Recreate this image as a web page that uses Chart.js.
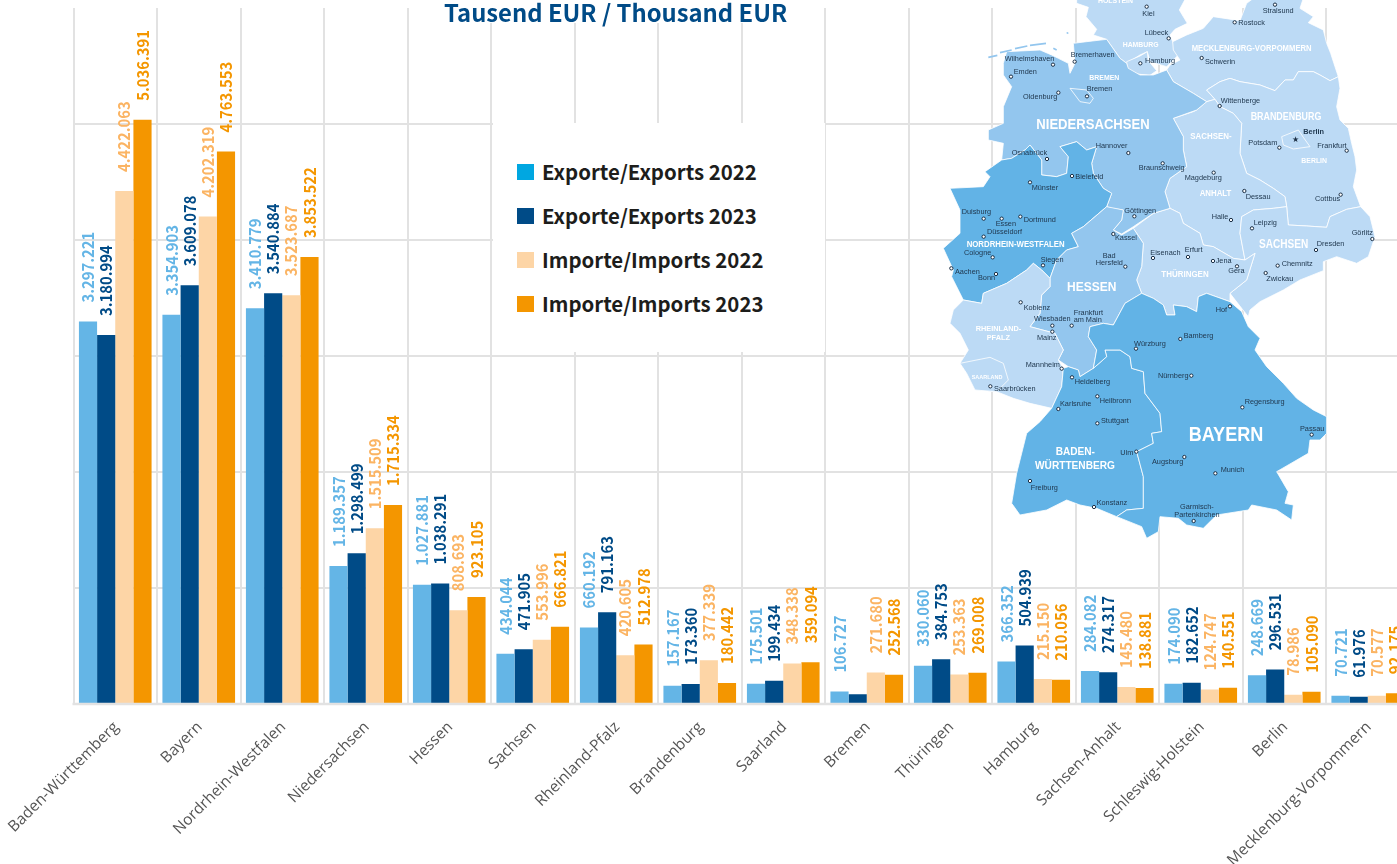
<!DOCTYPE html>
<html lang="de"><head><meta charset="utf-8">
<script src="https://cdn.jsdelivr.net/npm/chart.js@4/dist/chart.umd.min.js"></script>
<style>
html,body{margin:0;padding:0;background:#fff;overflow:hidden}
#page{position:relative;width:1397px;height:864px;overflow:hidden;background:#fff}
#chartCanvas{position:absolute;left:0;top:0}
#legendBox{position:absolute;left:493px;top:123px;width:332px;height:229px;background:#fff}
#titleBox{position:absolute;left:440px;top:0;width:352px;height:23px;background:#fff}
#title{position:absolute;left:444px;top:-6px;font:700 23.8px "Noto Sans CJK SC";color:#004b87;white-space:nowrap;line-height:36px}
.li{position:absolute;left:24px;height:17px}
.sw{position:absolute;left:0;top:0;width:17px;height:16px}
.lt{position:absolute;left:25px;top:-9px;font:700 20.4px "Noto Sans CJK SC";line-height:32px;color:#1d1d1b;white-space:nowrap}
#map{position:absolute;left:0;top:0;pointer-events:none}
#map .l{fill:#bcdaf5}#map .m{fill:#93c6ee}#map .d{fill:#62b3e6}
#map polygon{stroke:#fff;stroke-width:2.4;stroke-linejoin:round}
#map circle{fill:#fff;stroke:#1b2f45;stroke-width:3}
#map text{font-family:"Liberation Sans";}
#map .c{font-size:22px;fill:#20384f}
#map .s{font-weight:700;fill:#fff}
</style></head><body>
<div id="page">
<canvas id="chartCanvas" width="1420" height="864"></canvas>
<div id="titleBox"></div>
<div id="title">Tausend EUR / Thousand EUR</div>
<div id="legendBox"></div>
<svg id="map" width="1397" height="864" viewBox="0 0 1397 864">
<g transform="translate(940 0) scale(.33333)">
<!-- Schleswig-Holstein -->
<polygon class="l" points="410,-20 410,10 445,22 438,50 470,88 460,105 500,118 540,175 560,190 600,165 622,155 630,185 680,200 715,165 698,125 690,105 705,88 742,70 718,30 745,-20"/>
<!-- Hamburg -->
<polygon class="l" points="560,185 600,168 622,155 625,182 650,212 630,226 590,222 562,205"/>
<!-- Mecklenburg-Vorpommern -->
<polygon class="l" points="698,125 740,105 790,85 820,50 900,62 920,10 960,-20 1095,-20 1080,25 1120,50 1105,68 1150,90 1160,130 1172,160 1185,200 1195,230 1170,242 1140,225 1120,215 1075,215 1060,240 1035,240 1005,272 960,255 900,245 870,235 840,245 800,270 825,298 800,305 760,280 700,245 680,210 690,195 720,180 700,150"/>
<!-- Brandenburg -->
<polygon class="l" points="800,270 840,245 870,235 900,245 960,255 1005,272 1035,240 1060,240 1075,215 1120,215 1140,225 1170,242 1195,230 1200,265 1190,320 1200,360 1225,385 1235,430 1245,470 1250,510 1240,560 1262,620 1220,628 1170,650 1160,682 1100,678 1045,675 1040,620 1035,590 1000,565 960,540 920,520 900,460 905,370 880,340 840,320 825,298"/>
<!-- Sachsen-Anhalt -->
<polygon class="l" points="800,305 825,298 840,320 880,340 905,370 900,460 920,520 960,540 1000,565 1035,590 1040,620 1000,625 940,630 905,650 900,700 915,780 880,775 820,740 790,735 780,700 730,670 720,640 690,625 675,575 690,535 740,500 730,450 730,410 700,355 760,335 770,330"/>
<!-- Sachsen -->
<polygon class="l" points="905,650 940,630 1000,625 1040,620 1045,675 1100,678 1160,682 1170,650 1220,628 1262,620 1290,650 1305,710 1285,770 1250,790 1190,770 1150,785 1150,812 1080,840 1030,870 960,905 930,930 925,950 905,925 870,880 920,840 945,760 915,780 900,700"/>
<!-- Thüringen -->
<polygon class="l" points="580,685 640,640 690,625 720,640 730,670 780,700 790,735 820,740 880,775 915,780 945,760 920,840 870,880 870,905 800,880 775,890 770,935 740,920 700,915 705,945 680,945 670,915 640,895 605,880 590,840 605,800 610,730"/>
<!-- Niedersachsen -->
<polygon class="m" points="190,190 200,155 300,150 335,165 355,175 385,190 390,220 405,190 400,130 440,125 500,118 540,175 560,190 565,205 600,225 640,225 680,210 700,245 760,280 800,305 770,330 700,355 730,410 730,450 740,500 690,535 675,575 690,625 640,640 580,680 545,702 520,690 545,660 550,630 515,625 500,620 515,580 490,565 460,520 455,490 470,440 440,450 410,425 360,440 385,470 380,520 350,530 305,525 305,480 270,435 255,450 215,475 185,480 190,430 145,420 145,390 190,370 190,320 215,260 190,225"/>
<!-- Bremen -->
<polygon class="m" points="390,265 440,270 460,295 450,310 420,305"/>
<!-- Nordrhein-Westfalen -->
<polygon class="d" points="135,515 185,480 215,475 255,450 270,435 305,480 305,525 350,530 380,520 385,470 360,440 410,425 440,450 470,440 455,490 460,520 490,565 515,580 500,620 430,680 395,700 415,740 380,750 350,780 330,835 305,810 280,790 260,810 200,850 130,880 125,910 70,900 55,870 35,830 40,810 10,745 60,700 60,630 30,565 130,560 150,530"/>
<!-- Hessen -->
<polygon class="m" points="395,700 430,680 500,620 550,630 545,660 520,690 545,705 580,685 610,730 605,800 590,840 605,880 555,910 520,975 490,970 450,980 445,1010 470,1050 460,1105 420,1130 415,1110 385,1100 355,1080 370,1050 345,1000 270,980 300,940 305,885 330,860 330,835 350,780 380,750 415,740"/>
<!-- Rheinland-Pfalz -->
<polygon class="l" points="305,885 300,940 270,980 345,1000 370,1050 355,1080 370,1105 365,1160 335,1225 270,1210 220,1195 170,1175 105,1170 80,1120 60,1090 85,1050 60,1000 30,970 40,930 70,900 125,910 130,880 200,850 260,810 280,790 305,810 330,835 330,860"/>
<!-- Saarland -->
<polygon class="l" points="60,1090 150,1072 190,1090 205,1140 170,1175 105,1170 80,1120"/>
<!-- Baden-Württemberg -->
<polygon class="d" points="335,1225 365,1160 370,1105 385,1100 415,1110 420,1130 460,1105 500,1070 495,1050 540,1050 570,1070 575,1105 610,1115 615,1180 660,1240 665,1295 635,1300 640,1330 590,1355 610,1430 610,1525 560,1530 530,1550 470,1525 420,1515 380,1500 350,1515 320,1530 240,1545 215,1510 230,1420 260,1300 300,1265"/>
<!-- Bayern -->
<polygon class="d" points="450,980 490,970 520,975 555,910 605,880 640,895 670,915 680,945 705,945 700,915 740,920 770,935 775,890 800,880 870,905 905,935 925,980 960,1015 945,1050 980,1100 1030,1150 1070,1195 1120,1230 1160,1250 1160,1300 1140,1320 1110,1320 1105,1360 1010,1415 1045,1475 1035,1510 1060,1515 1055,1560 1010,1530 935,1515 925,1530 830,1545 790,1585 740,1575 715,1555 660,1550 655,1595 620,1615 605,1580 530,1550 560,1530 610,1525 610,1430 590,1355 640,1330 635,1300 665,1295 660,1240 615,1180 610,1115 575,1105 570,1070 540,1050 495,1050 500,1070 460,1105 470,1050 445,1010"/>
<!-- Berlin -->
<polygon class="l" points="1025,410 1075,390 1090,412 1110,440 1060,447 1030,435"/>
<path d="M145,172 L172,166 M180,158 L215,150 M225,146 L262,138 M270,136 L318,130 M340,145 L350,150 M380,100 L385,98" stroke="#93c6ee" stroke-width="5" fill="none"/>
<text x="1067" y="426" text-anchor="middle" font-size="24" fill="#1b2f45">★</text>
<g class="marks">
<circle cx="620" cy="20" r="5"/><text class="c" x="607" y="47">Kiel</text>
<circle cx="686" cy="115" r="5"/><text class="c" x="614" y="105">Lübeck</text>
<circle cx="601" cy="190" r="5"/><text class="c" x="615" y="188">Hamburg</text>
<circle cx="1005" cy="14" r="5"/><text class="c" x="968" y="40">Stralsund</text>
<circle cx="884" cy="67" r="5"/><text class="c" x="895" y="75">Rostock</text>
<circle cx="785" cy="174" r="5"/><text class="c" x="795" y="191">Schwerin</text>
<circle cx="339" cy="194" r="5"/><text class="c" x="194" y="182">Wilhelmshaven</text>
<circle cx="404" cy="185" r="5"/><text class="c" x="392" y="170">Bremerhaven</text>
<circle cx="213" cy="230" r="5"/><text class="c" x="221" y="223">Emden</text>
<circle cx="355" cy="278" r="5"/><text class="c" x="249" y="298">Oldenburg</text>
<circle cx="441" cy="289" r="5"/><text class="c" x="440" y="272">Bremen</text>
<circle cx="839" cy="318" r="5"/><text class="c" x="842" y="308">Wittenberge</text>
<text class="c" x="1090" y="401" font-weight="700">Berlin</text>
<circle cx="1018" cy="443" r="5"/><text class="c" x="925" y="436">Potsdam</text>
<circle cx="1220" cy="452" r="5"/><text class="c" x="1132" y="443">Frankfurt</text>
<circle cx="565" cy="459" r="5"/><text class="c" x="467" y="443">Hannover</text>
<circle cx="321" cy="477" r="5"/><text class="c" x="215" y="466">Osnabrück</text>
<circle cx="396" cy="528" r="5"/><text class="c" x="406" y="538">Bielefeld</text>
<circle cx="668" cy="490" r="5"/><text class="c" x="596" y="510">Braunschweig</text>
<circle cx="270" cy="547" r="5"/><text class="c" x="275" y="570">Münster</text>
<circle cx="821" cy="518" r="5"/><text class="c" x="734" y="539">Magdeburg</text>
<circle cx="913" cy="573" r="5"/><text class="c" x="917" y="597">Dessau</text>
<circle cx="1202" cy="584" r="5"/><text class="c" x="1125" y="604">Cottbus</text>
<circle cx="131" cy="656" r="5"/><text class="c" x="65" y="642">Duisburg</text>
<circle cx="185" cy="656" r="5"/><text class="c" x="167" y="678">Essen</text>
<circle cx="241" cy="650" r="5"/><text class="c" x="251" y="667">Dortmund</text>
<circle cx="583" cy="649" r="5"/><text class="c" x="553" y="638">Göttingen</text>
<circle cx="873" cy="660" r="5"/><text class="c" x="815" y="658">Halle</text>
<circle cx="936" cy="685" r="5"/><text class="c" x="941" y="675">Leipzig</text>
<circle cx="131" cy="710" r="5"/><text class="c" x="141" y="703">Düsseldorf</text>
<circle cx="1297" cy="717" r="5"/><text class="c" x="1235" y="706">Görlitz</text>
<circle cx="520" cy="702" r="5"/><text class="c" x="525" y="720">Kassel</text>
<circle cx="158" cy="772" r="5"/><text class="c" x="72" y="765">Cologne</text>
<circle cx="1128" cy="750" r="5"/><text class="c" x="1130" y="739">Dresden</text>
<circle cx="639" cy="774" r="5"/><text class="c" x="631" y="765">Eisenach</text>
<circle cx="744" cy="771" r="5"/><text class="c" x="734" y="757">Erfurt</text>
<circle cx="556" cy="800" r="5"/><text class="c" x="488" y="774">Bad</text><text class="c" x="467" y="795">Hersfeld</text>
<circle cx="819" cy="783" r="5"/><text class="c" x="827" y="790">Jena</text>
<circle cx="891" cy="799" r="5"/><text class="c" x="865" y="818">Gera</text>
<circle cx="309" cy="796" r="5"/><text class="c" x="302" y="787">Siegen</text>
<circle cx="1013" cy="797" r="5"/><text class="c" x="1025" y="798">Chemnitz</text>
<circle cx="34" cy="805" r="5"/><text class="c" x="45" y="821">Aachen</text>
<circle cx="168" cy="822" r="5"/><text class="c" x="114" y="839">Bonn</text>
<circle cx="977" cy="819" r="5"/><text class="c" x="979" y="843">Zwickau</text>
<circle cx="242" cy="907" r="5"/><text class="c" x="251" y="930">Koblenz</text>
<circle cx="337" cy="977" r="5"/><text class="c" x="282" y="964">Wiesbaden</text>
<circle cx="395" cy="977" r="5"/><text class="c" x="401" y="945">Frankfurt</text><text class="c" x="401" y="965">am Main</text>
<circle cx="337" cy="995" r="5"/><text class="c" x="291" y="1019">Mainz</text>
<circle cx="870" cy="919" r="5"/><text class="c" x="827" y="935">Hof</text>
<circle cx="721" cy="1017" r="5"/><text class="c" x="731" y="1013">Bamberg</text>
<circle cx="588" cy="1046" r="5"/><text class="c" x="582" y="1037">Würzburg</text>
<circle cx="365" cy="1106" r="5"/><text class="c" x="257" y="1100">Mannheim</text>
<circle cx="396" cy="1132" r="5"/><text class="c" x="404" y="1152">Heidelberg</text>
<circle cx="754" cy="1127" r="5"/><text class="c" x="654" y="1135">Nürnberg</text>
<circle cx="151" cy="1159" r="5"/><text class="c" x="162" y="1172">Saarbrücken</text>
<circle cx="472" cy="1189" r="5"/><text class="c" x="479" y="1210">Heilbronn</text>
<circle cx="355" cy="1227" r="5"/><text class="c" x="360" y="1217">Karlsruhe</text>
<circle cx="907" cy="1222" r="5"/><text class="c" x="914" y="1212">Regensburg</text>
<circle cx="472" cy="1270" r="5"/><text class="c" x="483" y="1268">Stuttgart</text>
<circle cx="1115" cy="1304" r="5"/><text class="c" x="1080" y="1294">Passau</text>
<circle cx="589" cy="1355" r="5"/><text class="c" x="541" y="1364">Ulm</text>
<circle cx="733" cy="1371" r="5"/><text class="c" x="636" y="1392">Augsburg</text>
<circle cx="826" cy="1420" r="5"/><text class="c" x="842" y="1417">Munich</text>
<circle cx="270" cy="1443" r="5"/><text class="c" x="272" y="1469">Freiburg</text>
<circle cx="462" cy="1521" r="5"/><text class="c" x="470" y="1514">Konstanz</text>
<circle cx="761" cy="1563" r="5"/><text class="c" x="720" y="1526">Garmisch-</text><text class="c" x="703" y="1550">Partenkirchen</text>
</g>
<g>
<text class="s" x="474" y="8" font-size="24" textLength="105" lengthAdjust="spacingAndGlyphs">HOLSTEIN</text>
<text class="s" x="548" y="142" font-size="24" textLength="108" lengthAdjust="spacingAndGlyphs">HAMBURG</text>
<text class="s" x="755" y="153" font-size="26" textLength="360" lengthAdjust="spacingAndGlyphs">MECKLENBURG-VORPOMMERN</text>
<text class="s" x="448" y="241" font-size="24" textLength="90" lengthAdjust="spacingAndGlyphs">BREMEN</text>
<text class="s" x="932" y="359" font-size="30" textLength="212" lengthAdjust="spacingAndGlyphs">BRANDENBURG</text>
<text class="s" x="289" y="386" font-size="42" textLength="340" lengthAdjust="spacingAndGlyphs">NIEDERSACHSEN</text>
<text class="s" x="751" y="416" font-size="26" textLength="124" lengthAdjust="spacingAndGlyphs">SACHSEN-</text>
<text class="s" x="1084" y="490" font-size="24" textLength="77" lengthAdjust="spacingAndGlyphs">BERLIN</text>
<text class="s" x="779" y="589" font-size="26" textLength="95" lengthAdjust="spacingAndGlyphs">ANHALT</text>
<text class="s" x="80" y="741" font-size="26" textLength="294" lengthAdjust="spacingAndGlyphs">NORDRHEIN-WESTFALEN</text>
<text class="s" x="957" y="743" font-size="36" textLength="148" lengthAdjust="spacingAndGlyphs">SACHSEN</text>
<text class="s" x="664" y="830" font-size="28" textLength="142" lengthAdjust="spacingAndGlyphs">THÜRINGEN</text>
<text class="s" x="381" y="872" font-size="38" textLength="148" lengthAdjust="spacingAndGlyphs">HESSEN</text>
<text class="s" x="107" y="992" font-size="24" textLength="137" lengthAdjust="spacingAndGlyphs">RHEINLAND-</text>
<text class="s" x="140" y="1020" font-size="24" textLength="70" lengthAdjust="spacingAndGlyphs">PFALZ</text>
<text class="s" x="95" y="1138" font-size="18" textLength="92" lengthAdjust="spacingAndGlyphs">SAARLAND</text>
<text class="s" x="347" y="1366" font-size="32" textLength="118" lengthAdjust="spacingAndGlyphs">BADEN-</text>
<text class="s" x="285" y="1407" font-size="32" textLength="240" lengthAdjust="spacingAndGlyphs">WÜRTTENBERG</text>
<text class="s" x="746" y="1323" font-size="58" textLength="224" lengthAdjust="spacingAndGlyphs">BAYERN</text>
</g>
</g></svg>
</div>
<script>
const categories = ["Baden-Württemberg","Bayern","Nordrhein-Westfalen","Niedersachsen","Hessen","Sachsen","Rheinland-Pfalz","Brandenburg","Saarland","Bremen","Thüringen","Hamburg","Sachsen-Anhalt","Schleswig-Holstein","Berlin","Mecklenburg-Vorpommern"];
const exports2022 = [3297221,3354903,3410779,1189357,1027881,434044,660192,157167,175501,106727,330060,366352,284082,174090,248669,70721];
const exports2023 = [3180994,3609078,3540884,1298499,1038291,471905,791163,173360,199434,84000,384753,504939,274317,182652,296531,61976];
const imports2022 = [4422063,4202319,3523687,1515509,808693,553996,420605,377339,348338,271680,253363,215150,145480,124747,78986,70577];
const imports2023 = [5036391,4763553,3853522,1715334,923105,666821,512978,180442,359094,252568,269008,210056,138881,140551,105090,92175];
const seriesNames = ["Exporte/Exports 2022","Exporte/Exports 2023","Importe/Imports 2022","Importe/Imports 2023"];
const barColors = ["#64b5e6","#004b87","#fdd5a6","#f49600"];
const swatchColors = ["#00a7e1","#004b87","#fdd5a6","#f49600"];
const labelColors = ["#64b5e6","#004b87","#fbb463","#f49600"];
const unlabelled = [[9,1]]; // Bremen 2023 carries no value label in the reference

const legendBox = document.getElementById('legendBox');
seriesNames.forEach((n,i)=>{
  const d=document.createElement('div');d.className='li';d.style.top=(41+44*i)+'px';
  d.innerHTML='<span class="sw" style="background:'+swatchColors[i]+'"></span><span class="lt">'+n+'</span>';
  legendBox.appendChild(d);
});

const fmt = v => String(v).replace(/\B(?=(\d{3})+(?!\d))/g,'.');
const gridGrey='#e2e2e2';
const valueLabels = {
  id:'valueLabels',
  afterDatasetsDraw(chart){
    const c=chart.ctx;
    const y0=chart.scales.y.getPixelForValue(0);
    c.save();
    c.strokeStyle=gridGrey;c.lineWidth=2.6;
    c.beginPath();c.moveTo(chart.chartArea.left-1,y0);c.lineTo(chart.chartArea.right,y0);c.stroke();
    c.restore();
    chart.data.datasets.forEach((ds,i)=>{
      chart.getDatasetMeta(i).data.forEach((el,j)=>{
        if(unlabelled.some(u=>u[0]===j&&u[1]===i)) return;
        c.save();
        c.translate(el.x,el.y-19);
        c.rotate(-Math.PI/2);
        c.scale(0.925,1);
        c.font='700 16px "Noto Sans CJK SC"';
        c.fillStyle=labelColors[i];
        c.textAlign='left';c.textBaseline='middle';
        c.fillText(fmt(ds.data[j]),0,0);
        c.restore();
      });
    });
  }
};
new Chart(document.getElementById('chartCanvas'),{
  type:'bar',
  data:{labels:categories,datasets:[exports2022,exports2023,imports2022,imports2023].map((d,i)=>({
    label:seriesNames[i],data:d,backgroundColor:barColors[i],borderWidth:0,
    barPercentage:1,categoryPercentage:0.87}))},
  options:{
    responsive:false,animation:false,
    layout:{padding:{left:73.5,right:10.5,top:8,bottom:0}},
    plugins:{legend:{display:false},title:{display:false},tooltip:{enabled:false}},
    scales:{
      x:{
        grid:{color:gridGrey,lineWidth:2,drawTicks:false},border:{display:false},
        ticks:{autoSkip:false,minRotation:45,maxRotation:45,padding:14,labelOffset:1,color:'#555',font:{family:'"Open Sans"',size:15.5}},
        afterFit(s){s.height=160;s.paddingLeft=0;s.paddingRight=0;}
      },
      y:{
        min:0,max:6000000,
        grid:{drawTicks:false,color:c=>c.tick.value===6000000?'rgba(0,0,0,0)':gridGrey,lineWidth:2},
        border:{display:false},
        ticks:{display:false,stepSize:1000000},
        afterFit(s){s.width=0;s.paddingTop=0;s.paddingBottom=0;}
      }
    }
  },
  plugins:[valueLabels]
});
</script>
</body></html>
